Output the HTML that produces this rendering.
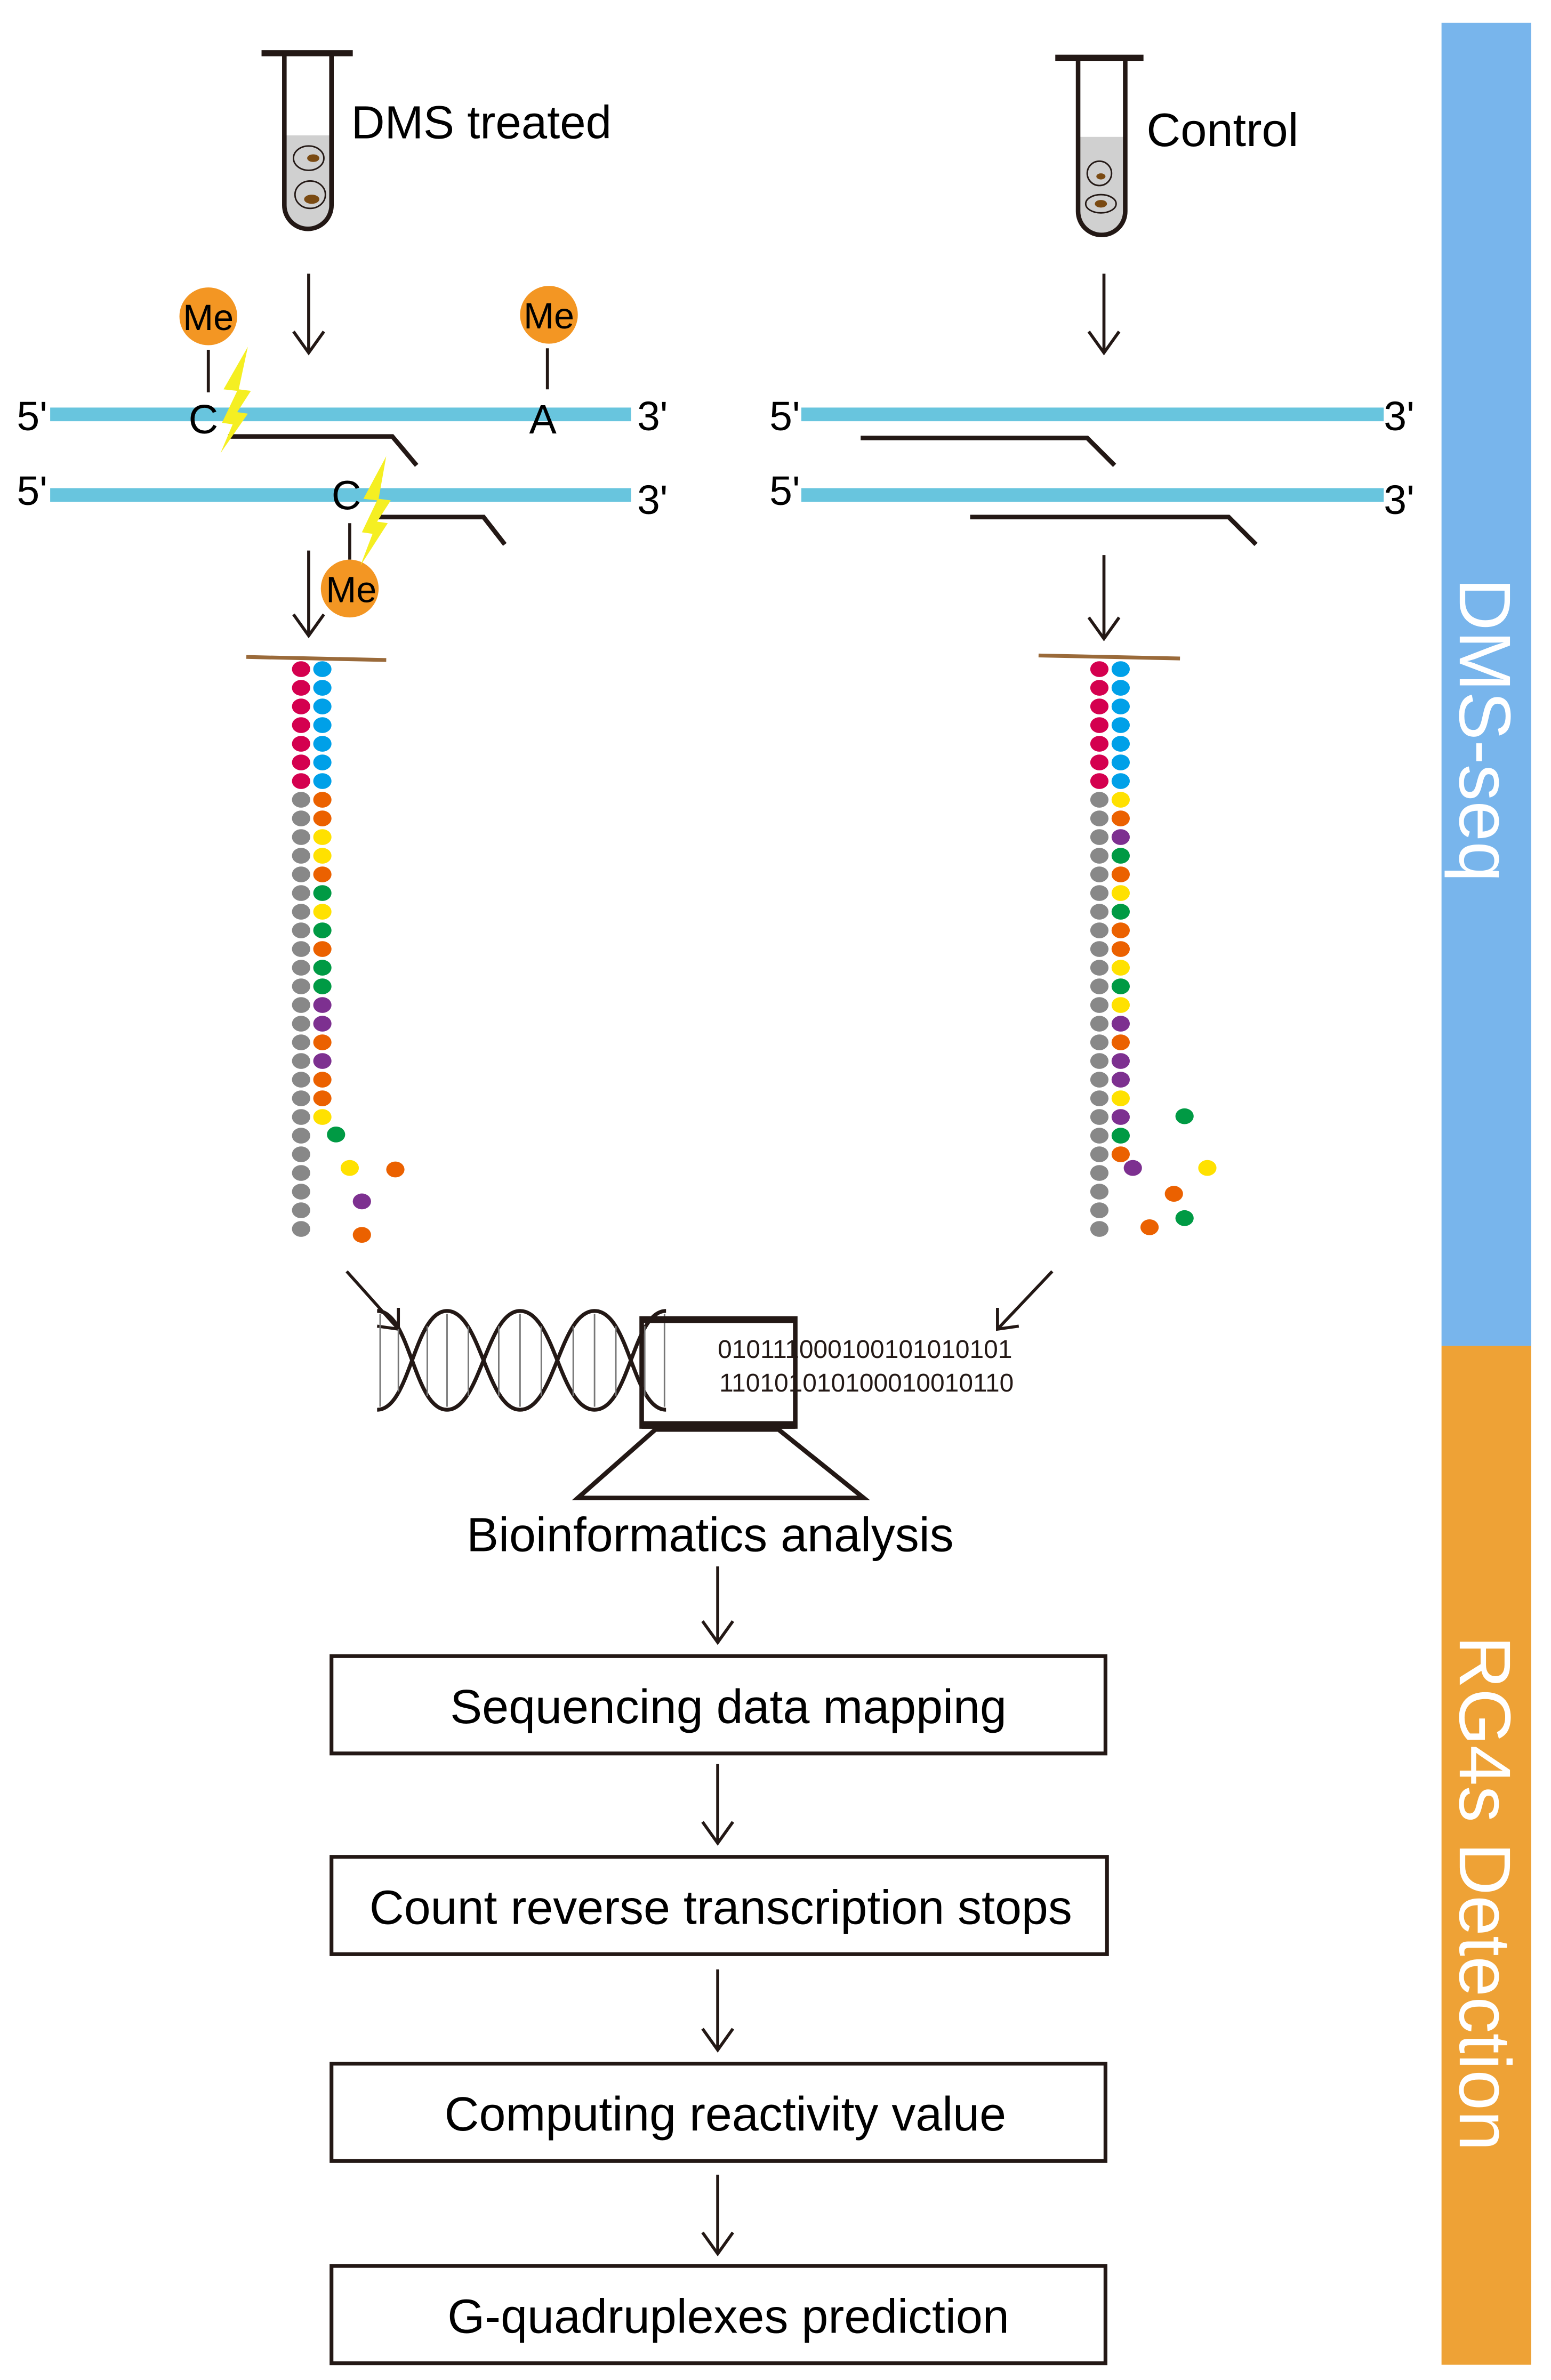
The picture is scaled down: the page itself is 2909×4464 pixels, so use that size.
<!DOCTYPE html>
<html><head><meta charset="utf-8"><style>
html,body{margin:0;padding:0;background:#fff;}
svg{display:block;}
text{font-family:"Liberation Sans",Arial,sans-serif;}
</style></head><body>
<svg width="2909" height="4464" viewBox="0 0 1020 1565" preserveAspectRatio="none" xmlns="http://www.w3.org/2000/svg">
<rect x="948" y="15" width="59" height="870" fill="#78b5ec"/>
<rect x="948" y="885" width="59" height="670" fill="#eea236"/>
<text x="0" y="0" transform="translate(960,480) rotate(90)" text-anchor="middle" font-size="48" fill="#fff">DMS-seq</text>
<text x="0" y="0" transform="translate(960,1245) rotate(90)" text-anchor="middle" font-size="48" fill="#fff">RG4s Detection</text>

<line x1="172" y1="35" x2="232" y2="35" stroke="#231815" stroke-width="4"/>
<path d="M188,89 L217,89 L217,135 A14.5,14.5 0 0 1 188,135 Z" fill="#d0d0d0"/>
<path d="M187,37 L187,135 A15.5,15.5 0 0 0 218,135 L218,37" fill="none" stroke="#231815" stroke-width="3"/>
<ellipse cx="203" cy="104" rx="10" ry="8" fill="none" stroke="#231815" stroke-width="1"/>
<ellipse cx="206" cy="104" rx="4" ry="2.5" fill="#7a4a12"/>
<ellipse cx="204" cy="128" rx="10" ry="9" fill="none" stroke="#231815" stroke-width="1"/>
<ellipse cx="205" cy="131" rx="5" ry="3" fill="#7a4a12"/>
<text x="231" y="91" font-size="30.5" fill="#000">DMS treated</text>
<line x1="694" y1="38" x2="752" y2="38" stroke="#231815" stroke-width="4"/>
<path d="M710,90 L739,90 L739,139 A14.5,14.5 0 0 1 710,139 Z" fill="#d0d0d0"/>
<path d="M709,40 L709,139 A15.5,15.5 0 0 0 740,139 L740,40" fill="none" stroke="#231815" stroke-width="3"/>
<ellipse cx="723" cy="114" rx="8" ry="8" fill="none" stroke="#231815" stroke-width="1"/>
<ellipse cx="724" cy="116" rx="3" ry="2" fill="#7a4a12"/>
<ellipse cx="724" cy="134" rx="10" ry="6" fill="none" stroke="#231815" stroke-width="1"/>
<ellipse cx="724" cy="134" rx="4" ry="2.5" fill="#7a4a12"/>
<text x="754" y="96" font-size="31" fill="#000">Control</text>

<g stroke="#231815" stroke-width="2" fill="none">
<line x1="203" y1="180" x2="203" y2="232"/><polyline points="193,218 203,232 213,218"/>
<line x1="726" y1="180" x2="726" y2="232"/><polyline points="716,218 726,232 736,218"/>
<line x1="203" y1="362" x2="203" y2="418"/><polyline points="193,404 203,418 213,404"/>
<line x1="726" y1="365" x2="726" y2="420"/><polyline points="716,406 726,420 736,406"/>
<line x1="228" y1="836" x2="262" y2="874"/><polyline points="248,872 262,874 262,860"/>
<line x1="692" y1="836" x2="656" y2="874"/><polyline points="656,860 656,874 670,872"/>
<line x1="472" y1="1030" x2="472" y2="1080"/><polyline points="462,1066 472,1080 482,1066"/>
<line x1="472" y1="1160" x2="472" y2="1212"/><polyline points="462,1198 472,1212 482,1198"/>
<line x1="472" y1="1295" x2="472" y2="1348"/><polyline points="462,1334 472,1348 482,1334"/>
<line x1="472" y1="1430" x2="472" y2="1482"/><polyline points="462,1468 472,1482 482,1468"/>
</g>

<rect x="33" y="268" width="382" height="9" fill="#68c5de"/>
<rect x="33" y="321" width="382" height="9" fill="#68c5de"/>
<g font-size="27" fill="#000">
<text x="11" y="283">5'</text><text x="419" y="283">3'</text>
<text x="11" y="332">5'</text><text x="419" y="338">3'</text>
<text x="124" y="285">C</text><text x="348" y="285">A</text>
<text x="218" y="335">C</text>
</g>
<g stroke="#231815" stroke-width="2">
<line x1="137" y1="230" x2="137" y2="258"/>
<line x1="360" y1="229" x2="360" y2="256"/>
<line x1="230" y1="344" x2="230" y2="368"/>
</g>
<polyline points="150,287 258,287 274,306" fill="none" stroke="#231815" stroke-width="3"/>
<polyline points="248,340 318,340 332,358" fill="none" stroke="#231815" stroke-width="3"/>
<circle cx="137" cy="208" r="19" fill="#f39623"/>
<circle cx="361" cy="207" r="19" fill="#f39623"/>
<circle cx="230" cy="387" r="19" fill="#f39623"/>
<g font-size="24" fill="#000" text-anchor="middle">
<text x="137" y="217">Me</text><text x="361" y="216">Me</text><text x="231" y="396">Me</text>
</g>
<polygon points="163,228 147,256 156,257 146,278 153,279 145,298 163,272 156,271 165,257 157,256" fill="#f5ef22"/>
<polygon points="254,300 239,328 248,329 238,350 245,351 237,372 255,344 248,343 257,329 249,328" fill="#f5ef22"/>

<rect x="527" y="268" width="383" height="9" fill="#68c5de"/>
<rect x="527" y="321" width="383" height="9" fill="#68c5de"/>
<g font-size="27" fill="#000">
<text x="506" y="283">5'</text><text x="910" y="283">3'</text>
<text x="506" y="332">5'</text><text x="910" y="338">3'</text>
</g>
<polyline points="566,288 715,288 733,306" fill="none" stroke="#231815" stroke-width="3"/>
<polyline points="638,340 808,340 826,358" fill="none" stroke="#231815" stroke-width="3"/>

<line x1="162" y1="432" x2="254" y2="434" stroke="#9a6a3a" stroke-width="2.5"/>
<line x1="683" y1="431" x2="776" y2="433" stroke="#9a6a3a" stroke-width="2.5"/>

<g id="dots"></g>

<g fill="none" stroke="#231815" stroke-width="2.5">
<path d="M248,862 C270,862 272,927 294,927 C316,927 320,862 342,862 C365,862 368,927 391,927 C414,927 416,862 438,862"/>
<path d="M248,927 C270,927 272,862 294,862 C316,862 320,927 342,927 C365,927 368,862 391,862 C414,862 416,927 438,927"/>
</g>
<g stroke="#777" stroke-width="1">
<line x1="250" y1="864" x2="250" y2="925"/><line x1="262" y1="874" x2="262" y2="915"/>
<line x1="281" y1="872" x2="281" y2="918"/><line x1="294" y1="864" x2="294" y2="925"/>
<line x1="308" y1="872" x2="308" y2="918"/><line x1="328" y1="872" x2="328" y2="918"/>
<line x1="342" y1="864" x2="342" y2="925"/><line x1="356" y1="872" x2="356" y2="918"/>
<line x1="377" y1="872" x2="377" y2="918"/><line x1="391" y1="864" x2="391" y2="925"/>
<line x1="405" y1="872" x2="405" y2="918"/><line x1="424" y1="872" x2="424" y2="918"/>
<line x1="437" y1="864" x2="437" y2="925"/>
</g>
<rect x="422" y="867" width="101" height="71" fill="none" stroke="#231815" stroke-width="3"/>
<line x1="422" y1="868" x2="523" y2="868" stroke="#231815" stroke-width="4"/>
<line x1="422" y1="937" x2="523" y2="937" stroke="#231815" stroke-width="5"/>
<polygon points="431,940 512,940 568,985 380,985" fill="none" stroke="#231815" stroke-width="3"/>
<g font-size="16.8" fill="#231815">
<text x="472" y="893">010111000100101010101</text>
<text x="473" y="915">110101010100010010110</text>
</g>
<text x="467" y="1020" font-size="31.5" text-anchor="middle">Bioinformatics analysis</text>

<g fill="none" stroke="#231815" stroke-width="2.5">
<rect x="218" y="1089" width="509" height="64"/>
<rect x="218" y="1221" width="510" height="64"/>
<rect x="218" y="1357" width="509" height="64"/>
<rect x="218" y="1490" width="509" height="64"/>
</g>
<g font-size="31.5" text-anchor="middle" fill="#000">
<text x="479" y="1133">Sequencing data mapping</text>
<text x="474" y="1265">Count reverse transcription stops</text>
<text x="477" y="1401">Computing reactivity value</text>
<text x="479" y="1534">G-quadruplexes prediction</text>
</g>
</svg>
<script>
(function(){
var C={M:"#d4004f",B:"#00a0e8",G:"#888888",O:"#eb6100",Y:"#ffe100",N:"#009a44",P:"#7d3090"};
var g=document.getElementById("dots"),ns="http://www.w3.org/2000/svg";
function d(x,y,c){var e=document.createElementNS(ns,"ellipse");e.setAttribute("cx",x);e.setAttribute("cy",y);e.setAttribute("rx",6);e.setAttribute("ry",5.2);e.setAttribute("fill",C[c]);g.appendChild(e);}
var sp=12.27,y0=440;
function col(x,seq){for(var i=0;i<seq.length;i++)d(x,y0+i*sp,seq[i]);}
col(198,"MMMMMMM"+"GGGGGGGGGGGGGGGGGGGGGGGG");
col(212,"BBBBBBB"+"OOYYONYNONNPPOPOOY");
d(221,746,"N");d(230,768,"Y");d(260,769,"O");d(238,790,"P");d(238,812,"O");
col(723,"MMMMMMM"+"GGGGGGGGGGGGGGGGGGGGGGGG");
col(737,"BBBBBBB"+"YOPNOYNOOYNYPOPPYPNO");
d(745,768,"P");d(779,734,"N");d(794,768,"Y");d(772,785,"O");d(779,801,"N");d(756,807,"O");
})();
</script>
</body></html>
